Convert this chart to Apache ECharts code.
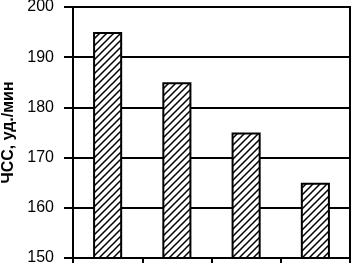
<!DOCTYPE html>
<html><head><meta charset="utf-8">
<script src="https://cdn.jsdelivr.net/npm/echarts@6/dist/echarts.min.js"></script>
<style>html,body{margin:0;padding:0;background:#fff}#c{width:353px;height:268px}</style>
</head><body><div id="c"></div>
<script>
const categories = ['1', '2', '3', '4'];
const hrValues = [195, 185, 175, 165];
const yTicks = [150, 160, 170, 180, 190, 200];
const yName = 'ЧСС, уд./мин';

const T = 7;
const pc = document.createElement('canvas');
pc.width = T; pc.height = T;
const g = pc.getContext('2d');
g.fillStyle = '#fff'; g.fillRect(0, 0, T, T);
g.strokeStyle = '#000'; g.lineWidth = 1.5;
g.beginPath();
g.moveTo(-1, T + 1); g.lineTo(T + 1, -1);
g.moveTo(-1, 1); g.lineTo(1, -1);
g.moveTo(T - 1, T + 1); g.lineTo(T + 1, T - 1);
g.stroke();

const font = 'Liberation Sans, Arial, Helvetica, sans-serif';
const chart = echarts.init(document.getElementById('c'), null, {renderer: 'canvas'});
chart.setOption({
  animation: false,
  grid: {left: 73, right: 3, top: 7, bottom: 10, containLabel: false, outerBoundsMode: 'none',
         show: true, borderColor: '#000', borderWidth: 2, backgroundColor: 'transparent'},
  xAxis: {
    type: 'category', data: categories, boundaryGap: true,
    axisLine: {lineStyle: {color: '#000', width: 2}},
    axisTick: {show: true, length: 5, lineStyle: {color: '#000', width: 2}},
    axisLabel: {show: false}
  },
  yAxis: {
    type: 'value', min: yTicks[0], max: yTicks[yTicks.length - 1], interval: 10,
    name: yName, nameLocation: 'middle', nameGap: 50, nameRotate: 90,
    nameTextStyle: {color: '#000', fontSize: 16, fontWeight: 'bold', fontFamily: font},
    axisLine: {show: true, lineStyle: {color: '#000', width: 2}},
    axisTick: {show: true, length: 9, lineStyle: {color: '#000', width: 2}},
    axisLabel: {color: '#000', fontSize: 16, margin: 19, fontFamily: font},
    splitLine: {show: true, lineStyle: {color: '#000', width: 2}}
  },
  series: [{
    type: 'bar', data: hrValues, barWidth: '42%',
    itemStyle: {color: {image: pc, repeat: 'repeat'}, borderColor: '#000', borderWidth: 2}
  }]
});
</script></body></html>
